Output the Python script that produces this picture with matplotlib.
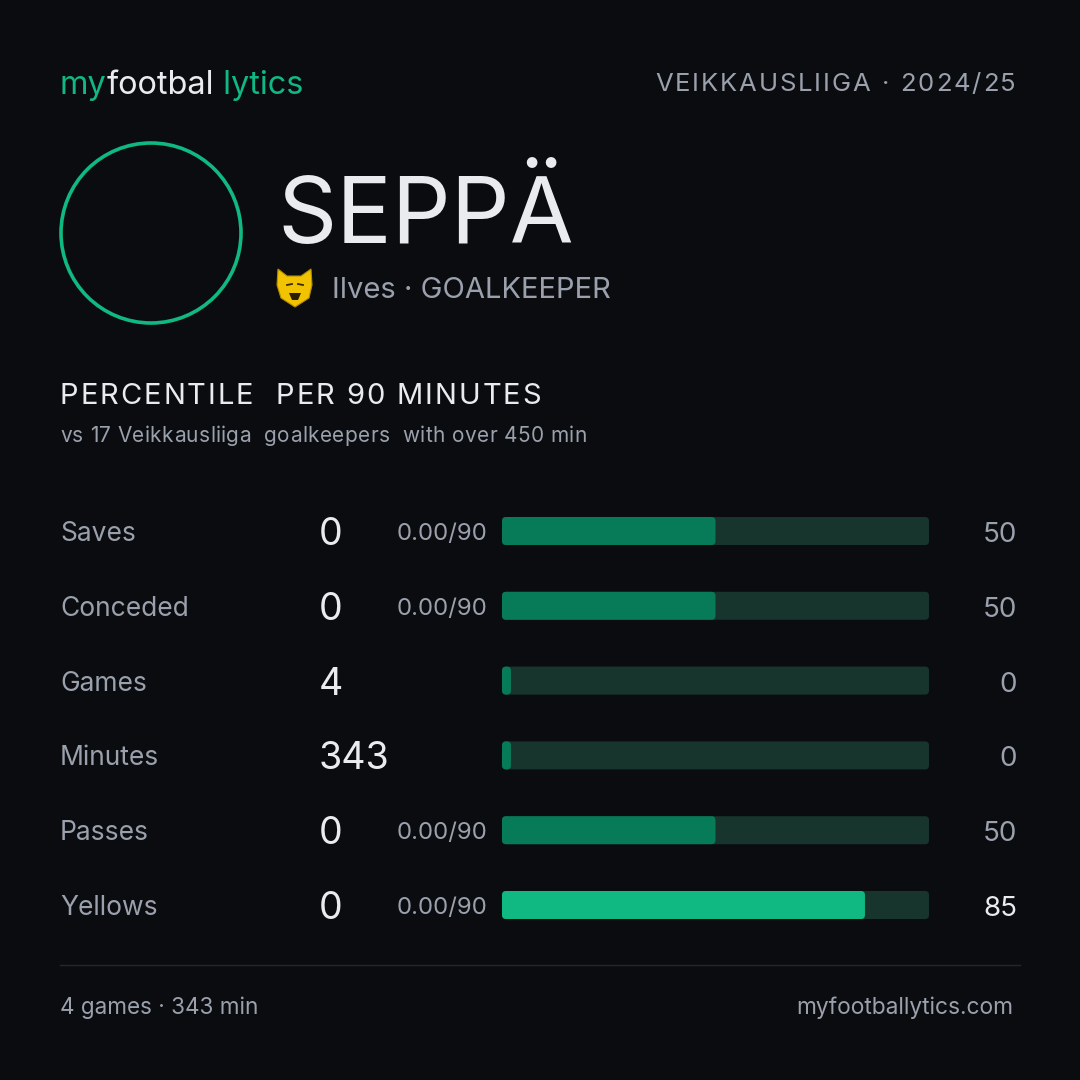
import numpy as np
import matplotlib.pyplot as plt
from matplotlib.patches import Circle, FancyBboxPatch, Polygon
from matplotlib.font_manager import FontProperties

# ---- data ----
player = "SEPPÄ"
team = "Ilves"
position = "GOALKEEPER"
league = "VEIKKAUSLIIGA"
season = "2024/25"
peers = 17
min_minutes = 450

metrics = ["Saves", "Conceded", "Games", "Minutes", "Passes", "Yellows"]
values = ["0", "0", "4", "343", "0", "0"]
per90 = ["0.00/90", "0.00/90", "", "", "0.00/90", "0.00/90"]
percentiles = [50, 50, 0, 0, 50, 85]

games = 4
minutes = 343

# ---- style ----
BG = "#0b0c10"
WHITE = "#e9ebef"
GRAY = "#9aa1ad"
GREEN = "#10b981"
FILL = "#077a58"
TRACK = "#17352c"
LINE = "#25272e"
FONT = ["Inter", "DejaVu Sans"]

plt.rcParams['font.family'] = FONT

fig = plt.figure(figsize=(10.8, 10.8), dpi=100, facecolor=BG)
ax = fig.add_axes([0, 0, 1, 1])
ax.set_xlim(0, 1080)
ax.set_ylim(1080, 0)
ax.axis("off")
ax.set_facecolor(BG)
rend = fig.canvas.get_renderer()


def pieces(x, y, parts, size):
    # draw text parts one after another on the same baseline
    inv = ax.transData.inverted()
    for txt, col in parts:
        t = ax.text(x, y, txt, color=col, fontsize=size, va="baseline", ha="left")
        bb = t.get_window_extent(renderer=rend)
        x = inv.transform((bb.x1, bb.y0))[0]


def tracked(x, y, s, size, color, track, ha="left"):
    # text with extra letter spacing, placed char by char
    fp = FontProperties(family=FONT, size=size)

    def w(t):
        return rend.get_text_width_height_descent(t, fp, ismath=False)[0]

    bar = w("|")
    offs = [w(s[:i] + "|") - bar + track * i for i in range(len(s))]
    total = w(s + "|") - bar + track * (len(s) - 1)
    x0 = x - total if ha == "right" else x
    for ch, o in zip(s, offs):
        if ch != " ":
            ax.text(x0 + o, y, ch, color=color, fontsize=size, ha="left", va="baseline")


# header
pieces(60, 94, [("my", GREEN), ("footbal", WHITE), (" lytics", GREEN)], 23.4)
tracked(1016, 91, f"{league} · {season}", 18.5, GRAY, 1.9, ha="right")

# avatar ring
ax.add_patch(Circle((151, 233), 90, fill=False, ec=GREEN, lw=2.6))

# name + team
ax.text(277, 243, player, color=WHITE, fontsize=66.5, ha="left", va="baseline")
crest = Polygon([(278, 269), (287, 276), (301, 276), (311, 269), (312, 285),
                 (309, 298), (295, 307), (281, 298), (277, 285)],
                closed=True, fc="#f2c300", ec="#b58c00", lw=0.8)
ax.add_patch(crest)
ax.plot([287, 292], [285, 284], color="#3a2a00", lw=1.3)
ax.plot([298, 303], [284, 285], color="#3a2a00", lw=1.3)
ax.add_patch(Polygon([(289, 293), (301, 293), (298, 300), (292, 300)],
                     closed=True, fc="#2a1d00", ec="none"))
ax.text(332, 298, f"{team} · {position}", color=GRAY, fontsize=21,
        ha="left", va="baseline")

# section title
tracked(60, 404, "PERCENTILE  PER 90 MINUTES", 21, WHITE, 1.9)
tracked(60, 442, f"vs {peers} Veikkausliiga  goalkeepers  with over {min_minutes} min",
        15, GRAY, 0.4)

# rows
row_y0 = 531
row_step = 74.8
bar_left, bar_right = 502, 929
bar_h = 28

bax = fig.add_axes([bar_left / 1080, 0, (bar_right - bar_left) / 1080, 1])
bax.set_xlim(0, 100)
bax.set_ylim(1080, 0)
bax.axis("off")
px = (bar_right - bar_left) / 100.0  # pixels per percentile unit

for i, (m, v, p9, pc) in enumerate(zip(metrics, values, per90, percentiles)):
    y = row_y0 + i * row_step
    ax.text(60, y + 10, m, color=GRAY, fontsize=19, ha="left", va="baseline")
    ax.text(319, y + 14, v, color=WHITE, fontsize=27, ha="left", va="baseline")
    if p9:
        ax.text(487, y + 9, p9, color=GRAY, fontsize=17.3, ha="right", va="baseline")
    hi = pc >= 80
    ax.text(1017, y + 11, str(pc), color=WHITE if hi else GRAY, fontsize=20,
            ha="right", va="baseline")
    rs = 4 / px
    bax.add_patch(FancyBboxPatch((0, y - bar_h / 2), 100, bar_h,
                                 boxstyle=f"round,pad=0,rounding_size={rs}",
                                 mutation_aspect=px, fc=TRACK, ec="none"))
    w = max(pc, 2.1)
    bax.add_patch(FancyBboxPatch((0, y - bar_h / 2), w, bar_h,
                                 boxstyle=f"round,pad=0,rounding_size={rs}",
                                 mutation_aspect=px, fc=GREEN if hi else FILL, ec="none"))

# footer
ax.plot([60, 1020], [965, 965], color=LINE, lw=1)
ax.text(60, 1014, f"{games} games · {minutes} min", color=GRAY, fontsize=16.2,
        ha="left", va="baseline")
ax.text(1013, 1014, "myfootballytics.com", color=GRAY, fontsize=16.4,
        ha="right", va="baseline")

fig.savefig("out.png", dpi=100, facecolor=BG)
